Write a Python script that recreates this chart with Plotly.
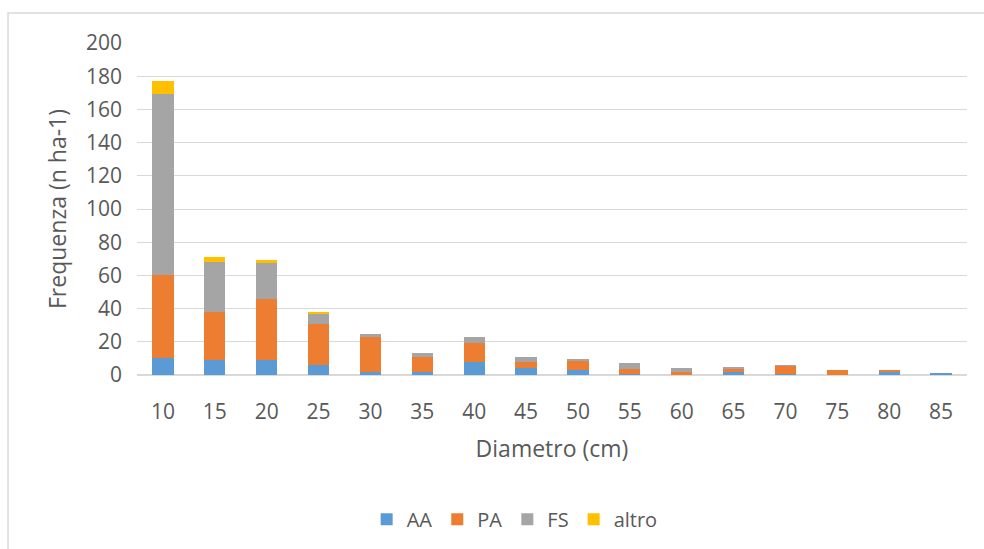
import plotly.graph_objects as go

diametro = ["10", "15", "20", "25", "30", "35", "40", "45", "50", "55", "60", "65", "70", "75", "80", "85"]
AA =    [10, 9, 9, 6, 2, 2, 8, 4, 3, 0.5, 0, 2, 0.5, 0, 2, 1]
PA =    [50, 29, 37, 25, 21, 9, 11, 4, 6, 3, 2, 2, 5, 3, 1, 0]
FS =    [109, 30, 22, 6, 2, 2, 4, 3, 0.5, 4, 2, 1, 0.5, 0, 0, 0]
altro = [8, 3, 1, 1, 0, 0, 0, 0, 0, 0, 0, 0, 0, 0, 0, 0]
y_ticks = [0, 20, 40, 60, 80, 100, 120, 140, 160, 180, 200]

series = [("AA", AA, "#5B9BD5"), ("PA", PA, "#ED7D31"), ("FS", FS, "#A5A5A5"), ("altro", altro, "#FFC000")]

fig = go.Figure()
for name, vals, col in series:
    fig.add_trace(go.Bar(x=diametro, y=vals, name=name, marker=dict(color=col, line=dict(width=0))))

font_fam = "'Open Sans', sans-serif"
fig.update_layout(
    barmode="stack",
    bargap=0.59,
    width=984, height=549,
    margin=dict(l=137, r=17, t=43, b=173),
    paper_bgcolor="white", plot_bgcolor="white",
    font=dict(family=font_fam, size=20, color="#595959"),
    xaxis=dict(
        title=dict(text="Diametro (cm)", font=dict(size=23, color="#595959"), standoff=16),
        ticklabelstandoff=18,
        showgrid=False, showline=True, linecolor="#d9d9d9", linewidth=1,
        tickfont=dict(size=21),
    ),
    yaxis=dict(
        title=dict(text="Frequenza (n ha-1)", font=dict(size=23, color="#595959"), standoff=12),
        range=[0, 200], tickvals=y_ticks,
        showgrid=True, gridcolor="#d9d9d9", gridwidth=1,
        zeroline=True, zerolinecolor="#d9d9d9",
        ticklabelstandoff=14,
        tickfont=dict(size=21),
    ),
    legend=dict(orientation="h", x=0.455, xanchor="center", y=-0.43, yanchor="middle",
                font=dict(size=20), traceorder="normal"),
    shapes=[dict(type="rect", xref="paper", yref="paper", x0=-0.1554, x1=1.2, y0=-1.0, y1=1.09,
                 line=dict(color="#d9d9d9", width=1.5), fillcolor="rgba(0,0,0,0)", layer="below")],
)

fig.write_html("out.html", config={"displayModeBar": False},
               post_script="document.body.style.margin='0';document.body.style.overflow='hidden';")
